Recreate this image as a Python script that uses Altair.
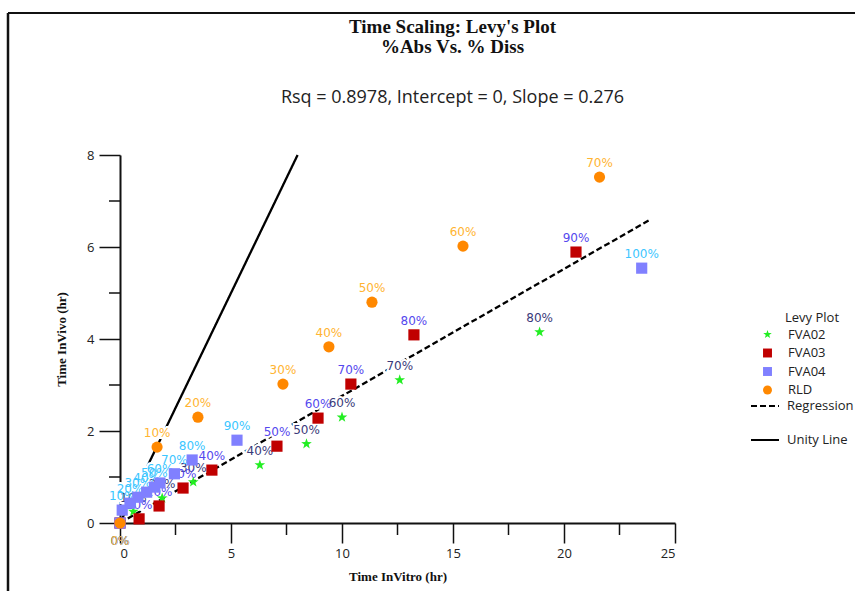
import altair as alt
import pandas as pd

# ---------------- data ----------------
series_names = ["FVA02", "FVA03", "FVA04", "RLD"]
marker_colors = ["#22ee22", "#c00000", "#8080ff", "#ff8800"]
STAR = ("M0,-1L0.2351,-0.3236L0.9511,-0.309L0.3804,0.1236L0.5878,0.809L0,0.4"
        "L-0.5878,0.809L-0.3804,0.1236L-0.9511,-0.309L-0.2351,-0.3236Z")
marker_shapes = [STAR, "square", "square", "circle"]
label_colors = ["#3a3a7a", "#5548ee", "#3cc6ff", "#ffb432"]

fva02_pct = [0, 10, 20, 30, 40, 50, 60, 70, 80]
fva02_x = [0.0, 0.6, 1.9, 3.3, 6.3, 8.4, 10.0, 12.6, 18.9]
fva02_y = [0.0, 0.25, 0.54, 0.89, 1.26, 1.72, 2.30, 3.11, 4.15]

fva03_pct = [0, 10, 20, 30, 40, 50, 60, 70, 80, 90]
fva03_x = [0.0, 0.86, 1.76, 2.84, 4.14, 7.07, 8.92, 10.4, 13.24, 20.54]
fva03_y = [0.0, 0.09, 0.37, 0.76, 1.15, 1.67, 2.28, 3.02, 4.09, 5.89]

fva04_pct = [0, 10, 20, 30, 40, 50, 60, 70, 80, 90, 100]
fva04_x = [0.0, 0.1, 0.45, 0.8, 1.2, 1.55, 1.8, 2.45, 3.25, 5.27, 23.5]
fva04_y = [0.0, 0.28, 0.43, 0.56, 0.67, 0.78, 0.87, 1.07, 1.37, 1.80, 5.54]

rld_pct = [0, 10, 20, 30, 40, 50, 60, 70]
rld_x = [0.0, 1.67, 3.51, 7.34, 9.41, 11.35, 15.45, 21.6]
rld_y = [0.0, 1.65, 2.30, 3.02, 3.83, 4.80, 6.02, 7.52]

line_names = ["Regression", "Unity Line"]
reg_x = [0.0, 23.9]
reg_y = [0.0, 6.6]
unity_x = [0.0, 8.0]
unity_y = [0.0, 8.0]

x_major = [0, 5, 10, 15, 20, 25]
x_minor = [2.5, 7.5, 12.5, 17.5, 22.5]
y_major = [0, 2, 4, 6, 8]
y_minor = [1, 3, 5, 7]

# ---------------- tables ----------------
rows = []
for name, xs, ys, ps in [
    ("FVA02", fva02_x, fva02_y, fva02_pct),
    ("FVA03", fva03_x, fva03_y, fva03_pct),
    ("FVA04", fva04_x, fva04_y, fva04_pct),
    ("RLD", rld_x, rld_y, rld_pct),
]:
    for x, y, p in zip(xs, ys, ps):
        rows.append({"series": name, "x": x, "y": y, "pct": p, "label": f"{p}%"})
df = pd.DataFrame(rows)

lrows = []
for name, xs, ys in [("Regression", reg_x, reg_y), ("Unity Line", unity_x, unity_y)]:
    for i, (x, y) in enumerate(zip(xs, ys)):
        lrows.append({"line": name, "x": x, "y": y, "order": i})
lines_df = pd.DataFrame(lrows)

xminor_df = pd.DataFrame({"x": x_minor})
yminor_df = pd.DataFrame({"y": y_minor})
one = pd.DataFrame({"k": [0]})

W, H = 555, 368
xscale = alt.Scale(domain=[0, 25], nice=False, zero=False)
yscale = alt.Scale(domain=[0, 8], nice=False, zero=False)

SANS = "Open Sans"
SERIF = "Liberation Serif"

x_axis = alt.Axis(
    values=x_major, tickSize=20, tickWidth=1.5, tickColor="#111",
    domainColor="#111", domainWidth=2, grid=False, labelFont=SANS, labelFontSize=13,
    labelColor="#222", labelPadding=4, title="Time InVitro (hr)", titleFont=SERIF,
    titleFontSize=13, titleFontWeight="bold", titleColor="#111", titlePadding=10,
)
y_axis = alt.Axis(
    values=y_major, tickSize=21, tickWidth=1.5, tickColor="#111",
    domainColor="#111", domainWidth=2, grid=False, labelFont=SANS, labelFontSize=13,
    labelColor="#222", labelPadding=5, title="Time InVivo (hr)", titleFont=SERIF,
    titleFontSize=13, titleFontWeight="bold", titleColor="#111", titlePadding=18,
)

X = alt.X("x:Q", scale=xscale, axis=x_axis)
Y = alt.Y("y:Q", scale=yscale, axis=y_axis)

# minor ticks drawn through the scales
xminor = alt.Chart(xminor_df).mark_rule(color="#111", strokeWidth=1.5).encode(
    x=alt.X("x:Q", scale=xscale), y=alt.value(H), y2=alt.value(H + 12)
)
yminor = alt.Chart(yminor_df).mark_rule(color="#111", strokeWidth=1.5).encode(
    y=alt.Y("y:Q", scale=yscale), x=alt.value(0), x2=alt.value(-11)
)

lines = alt.Chart(lines_df).mark_line(color="black", strokeWidth=2.3).encode(
    x=X,
    y=Y,
    order="order:Q",
    strokeDash=alt.StrokeDash(
        "line:N",
        scale=alt.Scale(domain=line_names, range=[[6, 3], [1, 0]]),
        legend=alt.Legend(
            title=None, orient="none", legendX=630, legendY=236, padding=0,
            symbolSize=784, symbolStrokeWidth=2, symbolStrokeColor="black",
            labelFont=SANS, labelFontSize=13, labelColor="#222",
            labelOffset=7, rowPadding=12,
        ),
    ),
)

# label colour per series, mapped in an expression (no scale, no legend)
color_expr = "{" + ",".join(f"'{s}':'{c}'" for s, c in zip(series_names, label_colors)) + "}[datum.series]"

base = alt.Chart(df)
labelled = base.transform_calculate(lc=color_expr)
upper = labelled.transform_filter("datum.pct > 0")
lower = labelled.transform_filter("datum.pct == 0")

halo_up = upper.mark_text(
    dy=-14, font="DejaVu Sans", fontSize=12, stroke="white", strokeWidth=4, fill="white"
).encode(x=X, y=Y, text="label:N")
text_up = upper.mark_text(dy=-14, font="DejaVu Sans", fontSize=12).encode(
    x=X, y=Y, text="label:N", fill=alt.Fill("lc:N", scale=None)
)
text_low = lower.mark_text(dy=18, font="DejaVu Sans", fontSize=12).encode(
    x=X, y=Y, text="label:N", fill=alt.Fill("lc:N", scale=None)
)

pt_legend = alt.Legend(
    title=None, orient="none", legendX=641, legendY=173, padding=0,
    symbolSize=80, labelFont=SANS, labelFontSize=13,
    labelColor="#222", labelOffset=14, rowPadding=4.5,
)
points = base.mark_point(filled=True, opacity=1, size=125).encode(
    x=X,
    y=Y,
    color=alt.Color(
        "series:N",
        scale=alt.Scale(domain=series_names, range=marker_colors),
        legend=pt_legend,
    ),
    shape=alt.Shape(
        "series:N",
        scale=alt.Scale(domain=series_names, range=marker_shapes),
        legend=pt_legend,
    ),
)

legend_title = alt.Chart(one).mark_text(
    align="left", baseline="middle", font=SANS, fontSize=13, color="#222"
).encode(x=alt.value(665), y=alt.value(163), text=alt.value("Levy Plot"))

border_top = alt.Chart(one).mark_rule(color="#111", strokeWidth=2).encode(
    x=alt.value(-112), x2=alt.value(740), y=alt.value(-142)
)
border_left = alt.Chart(one).mark_rule(color="#111", strokeWidth=2.5).encode(
    x=alt.value(-112), y=alt.value(-142), y2=alt.value(440)
)

chart = (
    alt.layer(xminor, yminor, lines, halo_up, text_up, text_low, points, legend_title,
              border_top, border_left)
    .properties(
        width=W,
        height=H,
        autosize="none",
        padding={"left": 120, "top": 155, "right": 180, "bottom": 68},
        title=alt.TitleParams(
            text=["Time Scaling: Levy's Plot", "%Abs  Vs. % Diss"],
            subtitle="Rsq = 0.8978, Intercept = 0, Slope = 0.276",
            font=SERIF, fontSize=19, fontWeight="bold", color="#111", lineHeight=20,
            subtitleFont=SANS, subtitleFontSize=18, subtitleColor="#222",
            subtitlePadding=32, anchor="middle", dx=55, offset=0, dy=95,
        ),
    )
    .configure_view(stroke=None)
)

chart.save("out.html", embed_options={"renderer": "svg", "actions": False})
